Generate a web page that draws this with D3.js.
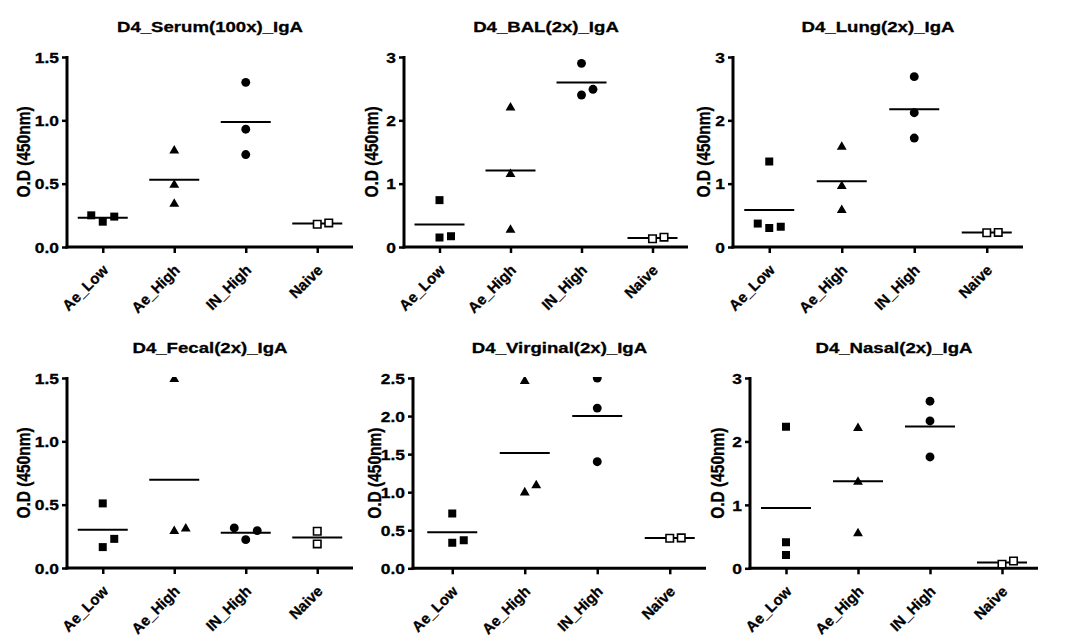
<!DOCTYPE html>
<html><head><meta charset="utf-8">
<script src="https://cdn.jsdelivr.net/npm/d3@7"></script>
<style>
body{margin:0;background:#fff}
svg{display:block}
text{font-family:"Liberation Sans",Arial,sans-serif;font-weight:bold;fill:#000;stroke:#000;stroke-width:0.3px}
</style>
</head><body>
<svg id="c" width="1089" height="642"></svg>
<script>
// ---------- data ----------
const categories = ["Ae_Low", "Ae_High", "IN_High", "Naive"];
const panelTitles = ["D4_Serum(100x)_IgA", "D4_BAL(2x)_IgA", "D4_Lung(2x)_IgA",
                     "D4_Fecal(2x)_IgA", "D4_Virginal(2x)_IgA", "D4_Nasal(2x)_IgA"];
const yAxisLabel = "O.D (450nm)";

const serumValues    = [[0.25, 0.20, 0.24], [0.76, 0.49, 0.34], [1.30, 0.93, 0.73], [0.18, 0.19]];
const balValues      = [[0.74, 0.15, 0.17], [2.20, 1.15, 0.27], [2.90, 2.40, 2.49], [0.13, 0.155]];
const lungValues     = [[1.35, 0.37, 0.30, 0.32], [1.58, 0.96, 0.58], [2.69, 2.12, 1.72], [0.225, 0.23]];
const fecalValues    = [[0.51, 0.165, 0.23], [1.49, 0.29, 0.31], [0.316, 0.224, 0.295], [0.29, 0.19]];
const virginalValues = [[0.72, 0.337, 0.368], [2.46, 0.995, 1.09], [2.50, 2.105, 1.40], [0.395, 0.40]];
const nasalValues    = [[2.23, 0.41, 0.21], [2.21, 1.36, 0.55], [2.634, 2.323, 1.755], [0.065, 0.115]];

const yTicks15 = [0, 0.5, 1.0, 1.5];
const yTicks3  = [0, 1, 2, 3];
const yTicks25 = [0, 0.5, 1.0, 1.5, 2.0, 2.5];
const yTickLabels15 = ["0.0", "0.5", "1.0", "1.5"];
const yTickLabels3  = ["0", "1", "2", "3"];
const yTickLabels25 = ["0.0", "0.5", "1.0", "1.5", "2.0", "2.5"];

const panelData = [
  {values: serumValues,    max: 1.5, ticks: yTicks15, labels: yTickLabels15},
  {values: balValues,      max: 3,   ticks: yTicks3,  labels: yTickLabels3},
  {values: lungValues,     max: 3,   ticks: yTicks3,  labels: yTickLabels3},
  {values: fecalValues,    max: 1.5, ticks: yTicks15, labels: yTickLabels15},
  {values: virginalValues, max: 2.5, ticks: yTicks25, labels: yTickLabels25},
  {values: nasalValues,    max: 3,   ticks: yTicks3,  labels: yTickLabels3}
];

// ---------- layout ----------
const layout = [
  {x0: 67,  bandStart: 67,  x1: 353,  yTop: 57,  yBot: 247,   ylabX: 30,  titleY: 32},
  {x0: 404, bandStart: 404, x1: 688,  yTop: 57,  yBot: 247,   ylabX: 378, titleY: 32},
  {x0: 733, bandStart: 733, x1: 1023, yTop: 57,  yBot: 247,   ylabX: 710, titleY: 32},
  {x0: 67,  bandStart: 67,  x1: 353,  yTop: 378, yBot: 568,   ylabX: 30,  titleY: 353},
  {x0: 413, bandStart: 416, x1: 706,  yTop: 378, yBot: 568.3, ylabX: 381, titleY: 353},
  {x0: 750, bandStart: 750, x1: 1038, yTop: 378, yBot: 568.3, ylabX: 724, titleY: 353}
];
const STRETCH = 1.2;
const JITTER = 11.5;
const COLLIDE = 12;

const svg = d3.select("#c");
const defs = svg.append("defs");

const shapes = [
  {type: d3.symbolSquare,   size: 64, fill: "#000", stroke: "none"},
  {type: d3.symbolTriangle, size: 42, fill: "#000", stroke: "none"},
  {type: d3.symbolCircle,   size: 62, fill: "#000", stroke: "none"},
  {type: d3.symbolSquare,   size: 56, fill: "#fff", stroke: "#000"}
];

function placeSlots(vals, y) {
  const order = vals.map((v, i) => i).sort((a, b) => vals[a] - vals[b]);
  const placed = [];
  const slotOrder = [0, 1, -1, 2, -2, 3, -3];
  order.forEach(i => {
    const v = vals[i];
    for (const k of slotOrder) {
      if (!placed.some(q => q.slot === k && Math.abs(y(q.v) - y(v)) < COLLIDE)) {
        placed.push({v: v, slot: k});
        break;
      }
    }
  });
  return placed;
}

panelData.forEach((p, pi) => {
  const L = layout[pi];
  const g = svg.append("g");
  const x = d3.scalePoint().domain(categories).range([L.bandStart, L.x1]).padding(0.5);
  const y = d3.scaleLinear().domain([0, p.max]).range([L.yBot, L.yTop]);

  // clip
  const cid = "clip" + pi;
  defs.append("clipPath").attr("id", cid).append("rect")
    .attr("x", L.x0 - 30).attr("y", L.yTop - 1)
    .attr("width", L.x1 - L.x0 + 60).attr("height", L.yBot - L.yTop + 30);

  // y axis ticks + labels
  const yAxis = d3.axisLeft(y).tickValues(p.ticks)
    .tickFormat((d, i) => p.labels[i]).tickSize(5).tickSizeOuter(0);
  const ya = g.append("g").attr("transform", `translate(${L.x0},0)`).call(yAxis);
  ya.attr("font-family", null).attr("font-size", null);
  ya.select(".domain").remove();
  ya.selectAll(".tick line").attr("stroke", "#000").attr("stroke-width", 2.5);
  ya.selectAll(".tick text")
    .attr("x", null).attr("dy", "0.36em")
    .attr("transform", `translate(-8,0) scale(${STRETCH},1)`)
    .attr("text-anchor", "end")
    .style("font-size", "14.5px");

  // x axis ticks + labels
  const xAxis = d3.axisBottom(x).tickSize(6).tickSizeOuter(0);
  const xa = g.append("g").attr("transform", `translate(0,${L.yBot})`).call(xAxis);
  xa.attr("font-family", null).attr("font-size", null);
  xa.select(".domain").remove();
  xa.selectAll(".tick line").attr("stroke", "#000").attr("stroke-width", 2.5);
  xa.selectAll(".tick text")
    .attr("y", null).attr("dy", null)
    .attr("transform", `translate(6,24) rotate(-45)`)
    .attr("text-anchor", "end")
    .style("font-size", "15px");

  // axis lines
  g.append("line").attr("x1", L.x0).attr("x2", L.x0)
    .attr("y1", y(p.max) - 1).attr("y2", y(0) + 1.5)
    .attr("stroke", "#000").attr("stroke-width", 3);
  g.append("line").attr("x1", L.x0 - 1.5).attr("x2", L.x1)
    .attr("y1", y(0)).attr("y2", y(0))
    .attr("stroke", "#000").attr("stroke-width", 3);

  // title
  g.append("text")
    .attr("transform", `translate(${(L.x0 + L.x1) / 2},${L.titleY}) scale(${STRETCH},1)`)
    .attr("text-anchor", "middle").style("font-size", "15.5px")
    .text(panelTitles[pi]);

  // y label
  g.append("text")
    .attr("transform", `translate(${L.ylabX},${(y(0) + y(p.max)) / 2}) scale(${STRETCH},1) rotate(-90)`)
    .attr("text-anchor", "middle").style("font-size", "15.5px")
    .text(yAxisLabel);

  // data
  const pts = g.append("g").attr("clip-path", `url(#${cid})`);
  categories.forEach((c, ci) => {
    const vals = p.values[ci];
    const sh = shapes[ci];
    const mean = d3.mean(vals);
    pts.append("line")
      .attr("x1", x(c) - 25).attr("x2", x(c) + 25)
      .attr("y1", y(mean)).attr("y2", y(mean))
      .attr("stroke", "#000").attr("stroke-width", 2);
    const placed = placeSlots(vals, y);
    pts.selectAll(null).data(placed).enter().append("path")
      .attr("d", d3.symbol().type(sh.type).size(sh.size))
      .attr("transform", d => `translate(${x(c) + d.slot * JITTER},${y(d.v)})`)
      .attr("fill", sh.fill).attr("stroke", sh.stroke)
      .attr("stroke-width", sh.stroke === "none" ? 0 : 1.6);
  });
});
</script>
</body></html>
